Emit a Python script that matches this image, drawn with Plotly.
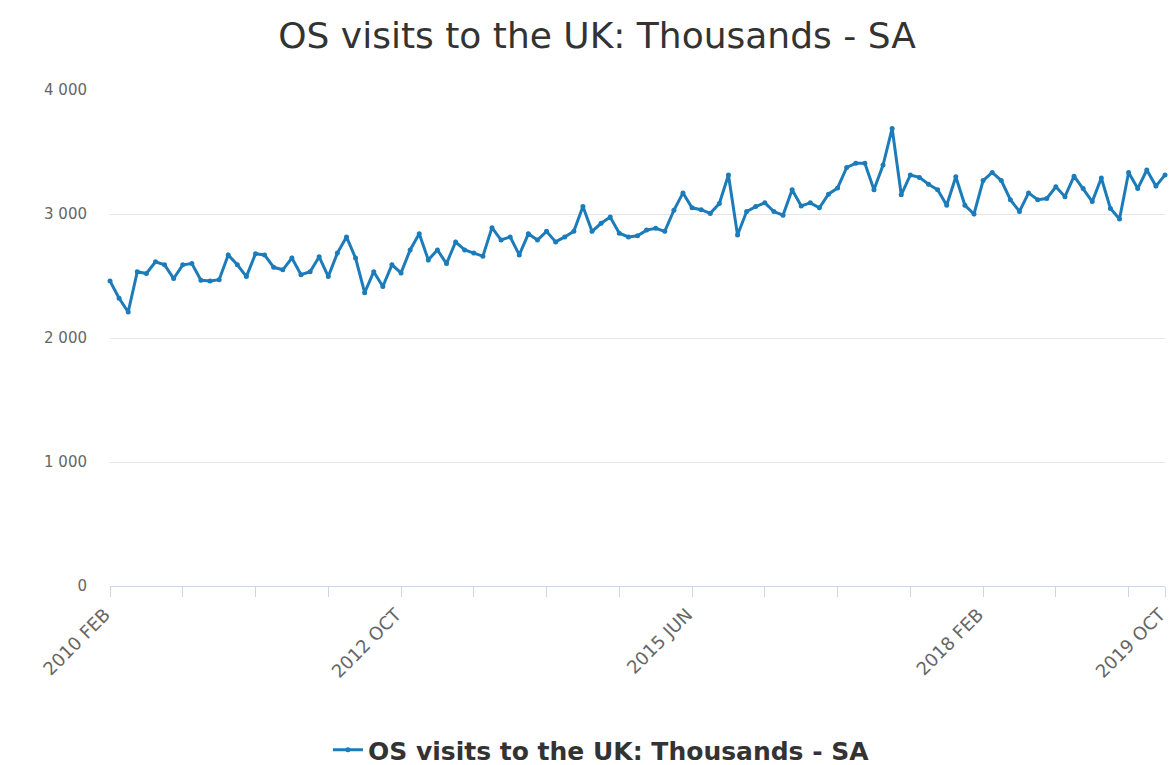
import pandas as pd
import plotly.graph_objects as go

# Monthly categories (2010 FEB .. 2019 OCT)
start_month = "2010-02"
end_month = "2019-10"
categories = [p.strftime("%Y %b").upper() for p in pd.period_range(start_month, end_month, freq="M")]

# OS visits to the UK: Thousands - SA
visits = [
    2460, 2320, 2210, 2535, 2520, 2615, 2590, 2480, 2590, 2600,
    2465, 2460, 2470, 2670, 2590, 2495, 2680, 2670, 2570, 2550,
    2645, 2510, 2535, 2655, 2495, 2685, 2815, 2645, 2365, 2535,
    2415, 2590, 2525, 2710, 2840, 2630, 2710, 2600, 2775, 2710,
    2685, 2660, 2890, 2790, 2815, 2670, 2840, 2790, 2860, 2775,
    2815, 2860, 3060, 2860, 2925, 2975, 2845, 2815, 2825, 2870,
    2885, 2860, 3030, 3170, 3050, 3035, 3005, 3085, 3315, 2830,
    3020, 3060, 3090, 3020, 2990, 3195, 3065, 3090, 3050, 3160,
    3210, 3375, 3410, 3410, 3195, 3395, 3690, 3155, 3315, 3295,
    3240, 3195, 3070, 3300, 3070, 3000, 3270, 3335, 3270, 3115,
    3020, 3170, 3115, 3125, 3220, 3140, 3305, 3205, 3100, 3290,
    3045, 2960, 3335, 3205, 3355, 3225, 3315,
]

series_name = "OS visits to the UK: Thousands - SA"
title_text = "OS visits to the UK: Thousands - SA"
labelled_ticks = ["2010 FEB", "2012 OCT", "2015 JUN", "2018 FEB", "2019 OCT"]
tick_step = 8
y_ticks = [0, 1000, 2000, 3000, 4000]

tick_vals = categories[::tick_step] + [categories[-1]]
tick_text = [c if c in labelled_ticks else "" for c in tick_vals]

line_color = "#1c7cba"
font_family = "DejaVu Sans, Verdana, sans-serif"

W, H = 1170, 765

fig = go.Figure()
fig.add_trace(go.Scatter(
    x=categories, y=visits, name=series_name,
    mode="lines+markers",
    line=dict(color=line_color, width=3),
    marker=dict(color=line_color, size=5),
    cliponaxis=False,
    showlegend=True,
))

fig.update_layout(
    width=W, height=H,
    margin=dict(l=110, r=5, t=90, b=179),
    paper_bgcolor="white", plot_bgcolor="white",
    font=dict(family=font_family, color="#666666"),
    separators=". ",
    title=dict(text=title_text, x=597 / W, xanchor="center",
               yref="container", y=1 - 35 / H, yanchor="middle",
               font=dict(size=36, color="#333333")),
    legend=dict(orientation="h", x=545 / W, xanchor="center",
                yref="container", y=1 - 750 / H, yanchor="middle",
                font=dict(size=25, color="#333333", weight="bold")),
    showlegend=True,
)

fig.update_xaxes(
    type="category", range=[0, len(categories) - 1], automargin=False,
    tickmode="array", tickvals=tick_vals, ticktext=tick_text,
    tickangle=-45, tickfont=dict(size=18, color="#666666"), ticklabelshift=-5,
    ticks="outside", ticklen=10, tickcolor="#ccd6eb",
    showline=True, linecolor="#ccd6eb", linewidth=1,
    showgrid=False, zeroline=False,
)
fig.update_yaxes(
    range=[0, 4000], automargin=False, tickmode="array", tickvals=y_ticks, tickformat=",",
    tickfont=dict(size=15, color="#666666"),
    showgrid=True, gridcolor="#e6e6e6", gridwidth=1,
    zeroline=False, showline=False, ticklabelstandoff=22,
)

fig.write_html(
    "out.html",
    config={"displayModeBar": False},
    post_script="document.body.style.margin='0px';document.body.style.overflow='hidden';",
)
